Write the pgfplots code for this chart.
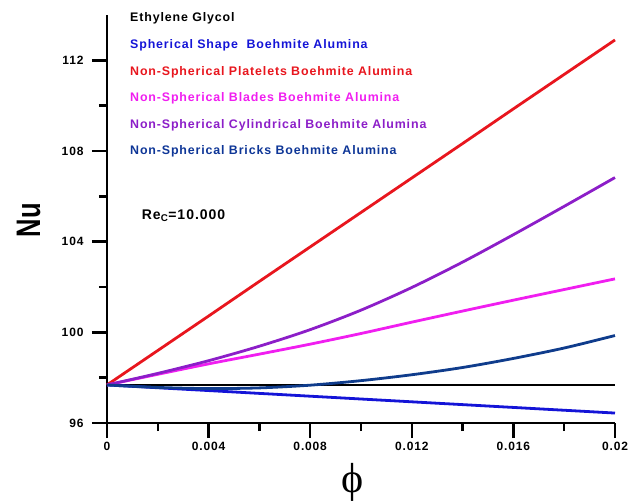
\documentclass[border=0pt]{standalone}
\usepackage{fontspec}
\setmainfont{Liberation Sans}
\newfontfamily\wfont[LetterSpace=7]{Liberation Sans}
\newfontfamily\phifont{Liberation Serif}
\usepackage{pgfplots}
\pgfplotsset{compat=1.18}

\definecolor{cSph}{RGB}{20,20,215}
\definecolor{cPla}{RGB}{232,22,30}
\definecolor{cBla}{RGB}{240,30,240}
\definecolor{cCyl}{RGB}{140,30,200}
\definecolor{cBri}{RGB}{15,60,140}

\begin{document}
\begin{tikzpicture}
\begin{axis}[
  scale only axis,
  width=508pt, height=408pt,
  xmin=0, xmax=0.02, ymin=96, ymax=114,
  clip=false,
  scaled x ticks=false,
  axis x line*=bottom, axis y line*=left,
  axis line style={line width=2.6pt, -},
  xtick={0,0.004,0.008,0.012,0.016,0.02},
  xticklabels={0,0.004,0.008,0.012,0.016,0.02},
  ytick={96,100,104,108,112},
  yticklabels={96,100,104,108,112},
  minor x tick num=1, minor y tick num=1,
  tick align=outside,
  major tick length=15pt, minor tick length=8pt,
  every tick/.style={black, line width=2.4pt},
  tick label style={font=\wfont\bfseries\fontsize{12}{14}\selectfont},
  yticklabel style={xshift=-5pt},
  xticklabel style={yshift=-1pt},
  /pgf/number format/assume math mode=true,
  every axis plot/.append style={line width=2.8pt},
]
% base fluid
\addplot[black] coordinates {
 (0,97.68) (0.002,97.68) (0.004,97.68) (0.006,97.68) (0.008,97.68) (0.010,97.68)
 (0.012,97.68) (0.014,97.68) (0.016,97.68) (0.018,97.68) (0.020,97.68)};
% spherical
\addplot[cSph] coordinates {
 (0,97.68) (0.002,97.556) (0.004,97.432) (0.006,97.308) (0.008,97.184) (0.010,97.06)
 (0.012,96.936) (0.014,96.812) (0.016,96.688) (0.018,96.564) (0.020,96.44)};
% platelets
\addplot[cPla] coordinates {
 (0,97.68) (0.002,99.20) (0.004,100.72) (0.006,102.25) (0.008,103.77) (0.010,105.29)
 (0.012,106.81) (0.014,108.33) (0.016,109.86) (0.018,111.38) (0.020,112.90)};
% blades
\addplot[cBla, smooth] coordinates {
 (0,97.68) (0.002,98.15) (0.004,98.61) (0.006,99.04) (0.008,99.48) (0.010,99.95)
 (0.012,100.45) (0.014,100.94) (0.016,101.42) (0.018,101.89) (0.020,102.36)};
% cylindrical
\addplot[cCyl, smooth] coordinates {
 (0,97.68) (0.002,98.19) (0.004,98.75) (0.006,99.39) (0.008,100.12) (0.010,100.98)
 (0.012,101.98) (0.014,103.10) (0.016,104.31) (0.018,105.56) (0.020,106.83)};
% bricks
\addplot[cBri, smooth] coordinates {
 (0,97.68) (0.002,97.57) (0.004,97.52) (0.006,97.55) (0.008,97.67) (0.010,97.87)
 (0.012,98.13) (0.014,98.45) (0.016,98.85) (0.018,99.31) (0.020,99.86)};

\tikzset{lg/.style={anchor=base west, inner sep=0pt, font=\wfont\bfseries\fontsize{12.4}{14}\selectfont}}
\node[lg, black]        at (rel axis cs:0.0453,0.9841) {Ethylene Glycol};
\node[lg, cSph]         at (rel axis cs:0.0453,0.9179) {Spherical Shape \ Boehmite Alumina};
\node[lg, cPla]         at (rel axis cs:0.0453,0.8529) {Non-Spherical Platelets Boehmite Alumina};
\node[lg, cBla]         at (rel axis cs:0.0453,0.7880) {Non-Spherical Blades Boehmite Alumina};
\node[lg, cCyl]         at (rel axis cs:0.0453,0.7230) {Non-Spherical Cylindrical Boehmite Alumina};
\node[lg, cBri!90!blue] at (rel axis cs:0.0453,0.6581) {Non-Spherical Bricks Boehmite Alumina};

\node[anchor=base west, inner sep=0pt, font=\wfont\bfseries\fontsize{14}{16}\selectfont]
  at (rel axis cs:0.0683,0.4993) {Re\textsubscript{C}=10.000};

\node[rotate=90, inner sep=0pt, font=\bfseries\fontsize{34}{36}\selectfont]
  at (rel axis cs:-0.1545,0.4975) {\scalebox{0.75}[1]{Nu}};
\node[inner sep=0pt, font=\phifont\fontsize{42}{44}\selectfont]
  at (rel axis cs:0.484,-0.146) {ϕ};

\coordinate (bbSW) at (rel axis cs:-0.2106,-0.1961);
\coordinate (bbNE) at (rel axis cs:1.0433,1.0368);
\end{axis}
\pgfresetboundingbox
\path[use as bounding box] (bbSW) rectangle (bbNE);
\end{tikzpicture}
\end{document}
